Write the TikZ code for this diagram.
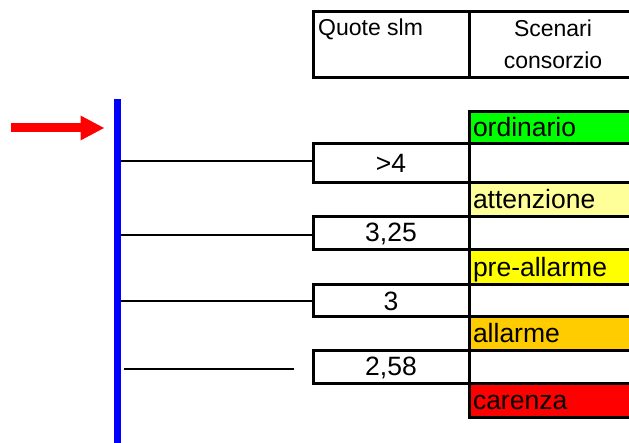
\documentclass[tikz,border=0pt]{standalone}
\usepackage{fontspec}
\setmainfont{Liberation Sans}
\usetikzlibrary{arrows.meta,positioning,calc}

\definecolor{verde}{HTML}{00FF00}
\definecolor{giallino}{HTML}{FFFF99}
\definecolor{giallo}{HTML}{FFFF00}
\definecolor{arancio}{HTML}{FFCC00}
\definecolor{rosso}{HTML}{FF0000}
\definecolor{blu}{HTML}{0000FF}

\begin{document}
\begin{tikzpicture}[x=1pt,y=-1pt,
  box/.style={rectangle,draw,line width=3pt,inner sep=0pt,outer sep=0pt},
  quota/.style={box,minimum width=156pt,font=\fontsize{26.5}{30}\selectfont},
  scen/.style={box,minimum width=168pt,text width=160pt,inner xsep=4pt,align=left,
    text height=18pt,text depth=0pt,font=\fontsize{26.5}{30}\selectfont},
  testa/.style={font=\fontsize{23}{32}\selectfont,inner sep=0pt}]
\useasboundingbox (0,0) rectangle (629,443);

% intestazione
\node [box,minimum width=156pt,minimum height=66pt] (qh) at (391,45) {};
\node [box,minimum width=168pt,minimum height=66pt,right=0pt of qh] (sh) {};
\node [testa,anchor=base west] at ($(qh.north west)+(5,24)$) {Quote slm};
\node [testa,align=center,anchor=north] at ($(sh.north)+(0,7.5)$) {Scenari\\consorzio};

% scenari
\node [scen,fill=verde,minimum height=32pt] (s0) at (553,128) {ordinario};
\node [scen,minimum height=39pt,below=0pt of s0] (w1) {};
\node [scen,fill=giallino,minimum height=34pt,below=0pt of w1] (s1) {attenzione};
\node [scen,minimum height=33pt,below=0pt of s1] (w2) {};
\node [scen,fill=giallo,minimum height=35pt,below=0pt of w2] (s2) {pre-allarme};
\node [scen,minimum height=32pt,below=0pt of s2] (w3) {};
\node [scen,fill=arancio,minimum height=34pt,below=0pt of w3] (s3) {allarme};
\node [scen,minimum height=33pt,below=0pt of s3] (w4) {};
\node [scen,fill=rosso,minimum height=33pt,below=0pt of w4] (s4) {carenza};

% quote
\node [quota,minimum height=39pt,left=0pt of w1] (v1) {>4};
\node [quota,minimum height=33pt,left=0pt of w2] (v2) {3,25};
\node [quota,minimum height=32pt,left=0pt of w3] (v3) {3};
\node [quota,minimum height=33pt,left=0pt of w4] (v4) {2,58};

% asta
\node [fill=blu,minimum width=7.5pt,minimum height=345pt,inner sep=0pt] (asta) at (117.5,272) {};
\draw [line width=2pt] ($(asta.east |- v1.west)+(0,-2.5)$) -- ($(v1.west)+(0,-2.5)$);
\draw [line width=2pt] ($(asta.east |- v2.west)+(0,1.5)$) -- ($(v2.west)+(0,1.5)$);
\draw [line width=2pt] (asta.east |- v3.west) -- (v3.west);
\draw [line width=2pt] ($(asta.east |- v4.west)+(3,1.5)$) -- ($(v4.west)+(-19,1.5)$);

\coordinate (freccia) at (11,128);
\draw [rosso,line width=9pt,-{Triangle[length=24pt,width=23pt]}] (freccia) -- ($(asta.west |- s0)+(-9,0)$);
\end{tikzpicture}
\end{document}
